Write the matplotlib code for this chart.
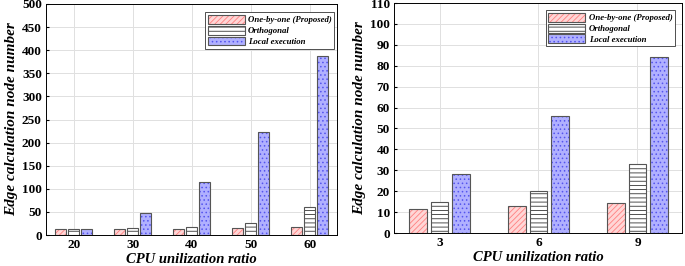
import matplotlib
matplotlib.use('Agg')
import matplotlib.pyplot as plt
from matplotlib.patches import Patch
import numpy as np

plt.rcParams['font.family'] = 'Liberation Serif'
plt.rcParams['font.weight'] = 'bold'
plt.rcParams['hatch.linewidth'] = 0.6

labels_a = ['20', '30', '40', '50', '60']
one_a = [12, 13, 14, 16, 17]
orth_a = [14, 15, 18, 27, 61]
local_a = [14, 48, 115, 223, 387]

labels_b = ['3', '6', '9']
one_b = [11.5, 13, 14.5]
orth_b = [15, 20, 33]
local_b = [28, 56, 84]

names = ['One-by-one (Proposed)', 'Orthogonal', 'Local execution']
faces = ['#ffd6d6', 'white', '#b0b0ff']
hatch_cols = ['#ff8080', '#333333', '#5555ee']
hatches = ['//////', '----', '....']

fig = plt.figure(figsize=(6.85, 2.66), dpi=100)
ax1 = fig.add_axes([46/685, 1 - 235/266, 291/685, 231/266])
ax2 = fig.add_axes([394/685, 1 - 233/266, 288/685, 230/266])


def draw(ax, labels, series, width, step, ymax, ystep, xlim, legend_anchor):
    x = np.arange(len(labels))
    for i, vals in enumerate(series):
        ax.bar(x + (i - 1) * step, vals, width, color=faces[i], edgecolor=hatch_cols[i],
               hatch=hatches[i], linewidth=0, zorder=3)
        ax.bar(x + (i - 1) * step, vals, width, fill=False, edgecolor='#555555',
               linewidth=0.8, zorder=4)
    handles = [(Patch(facecolor=faces[i], edgecolor=hatch_cols[i], hatch=hatches[i], linewidth=0),
                Patch(fill=False, edgecolor='#555555', linewidth=0.8))
               for i in range(3)]
    ax.set_xticks(x)
    ax.set_xticklabels(labels)
    ax.set_xlim(*xlim)
    ax.set_ylim(0, ymax)
    ax.set_yticks(np.arange(0, ymax + 1, ystep))
    ax.grid(True, color='#e0e0e0', linewidth=0.7, zorder=0)
    ax.tick_params(labelsize=9.5, length=2, direction='in', pad=3)
    for t in ax.get_xticklabels() + ax.get_yticklabels():
        t.set_fontweight('bold')
    ax.set_xlabel('CPU unilization ratio', fontsize=10.5, fontstyle='italic',
                  fontweight='bold', labelpad=1)
    ax.set_ylabel('Edge calculation node number', fontsize=11, fontstyle='italic',
                  fontweight='bold', labelpad=3)
    leg = ax.legend(handles, names, loc='upper right', bbox_to_anchor=legend_anchor,
                    fancybox=False, edgecolor='#333333', framealpha=1,
                    prop={'size': 6.3, 'style': 'italic', 'weight': 'bold'},
                    handlelength=4.2, handleheight=1.2, labelspacing=0.15,
                    borderpad=0.3, handletextpad=0.4, borderaxespad=0.3)
    leg.get_frame().set_linewidth(0.6)
    for s in ax.spines.values():
        s.set_linewidth(0.7)


draw(ax1, labels_a, [one_a, orth_a, local_a], 0.19, 0.22, 500, 50,
     (-0.47, 4.46), (1.0, 0.975))
draw(ax2, labels_b, [one_b, orth_b, local_b], 0.18, 0.22, 110, 10,
     (-0.46, 2.45), (0.985, 0.98))

fig.savefig('out.png', dpi=100)
